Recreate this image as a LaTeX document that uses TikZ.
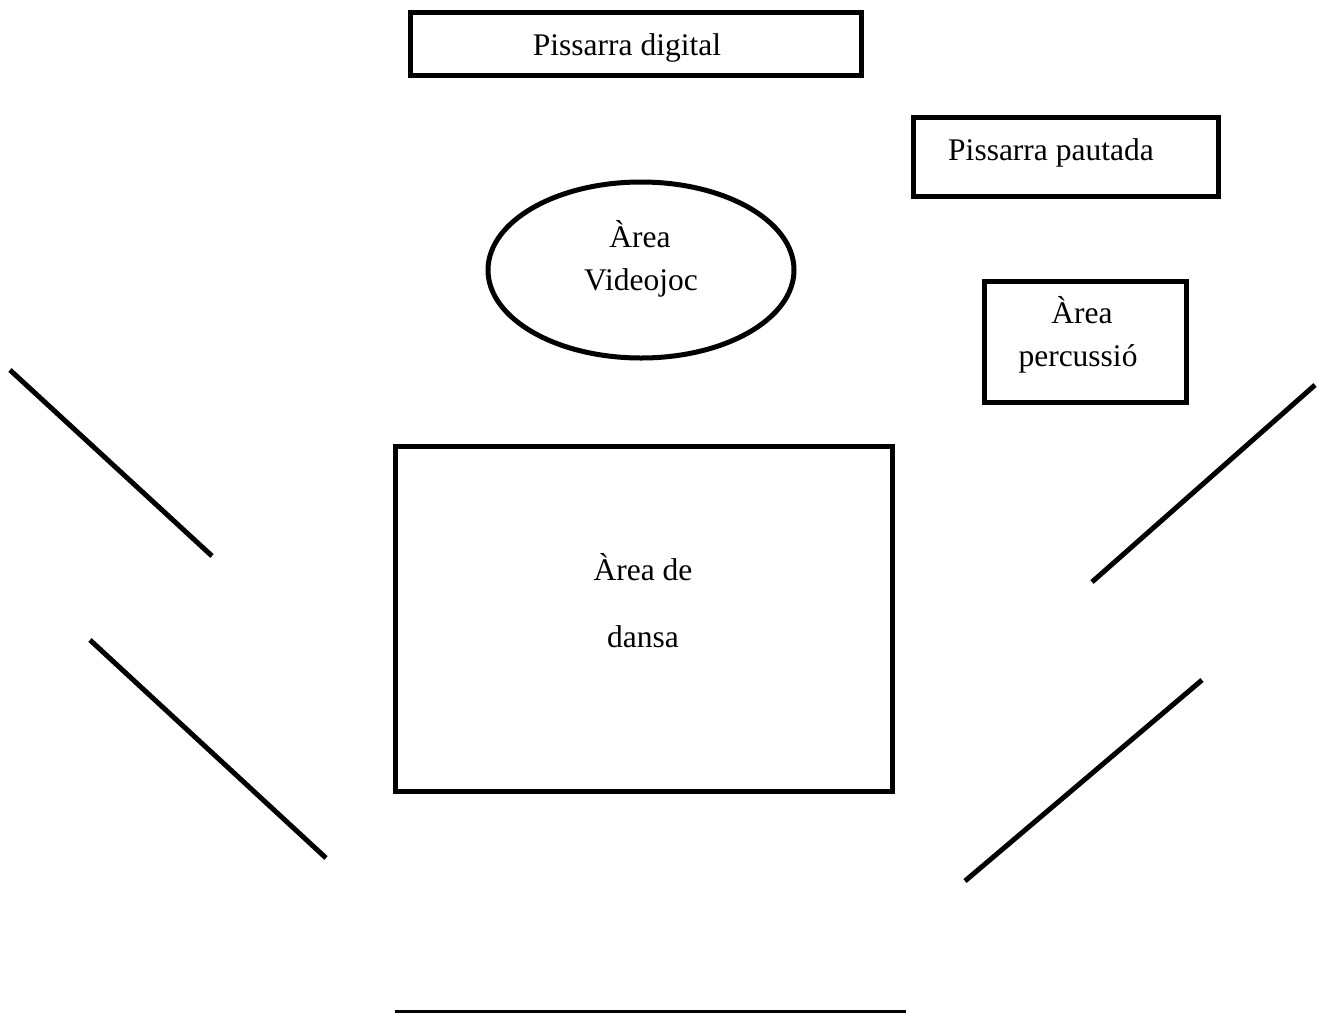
\documentclass[tikz,border=0pt]{standalone}
\usepackage{fontspec}
\setmainfont{Liberation Serif}
\usetikzlibrary{shapes.geometric}
\begin{document}
\begin{tikzpicture}[x=1pt,y=-1pt,
  box/.style={draw,line width=5pt,inner sep=0pt},
  wall/.style={line width=5pt},
  lbl/.style={font=\fontsize{31.5}{36}\selectfont,anchor=base,inner sep=0pt}]
\useasboundingbox[fill=white] (0,0) rectangle (1323,1013);
% boxes
\node[box,minimum width=451pt,minimum height=63pt] (dig) at (635.5,43.5) {};
\node[box,minimum width=305pt,minimum height=79pt] (pau) at (1066,157) {};
\node[box,ellipse,minimum width=306pt,minimum height=176pt] (vid) at (641,270) {};
\node[box,minimum width=202pt,minimum height=121pt] (per) at (1085,341.5) {};
\node[box,minimum width=497pt,minimum height=345pt] (dan) at (643.5,618.5) {};
% labels
\node[lbl] (tdig) at (627,55) {Pissarra digital};
\node[lbl] (tpau) at (1051,160) {Pissarra pautada};
\node[lbl] (tvid1) at (640,247) {Àrea};
\node[lbl] (tvid2) at (641,290) {Videojoc};
\node[lbl] (tper1) at (1082,323) {Àrea};
\node[lbl] (tper2) at (1078,366) {percussió};
\node[lbl] (tdan1) at (643,580) {Àrea de};
\node[lbl] (tdan2) at (643,647) {dansa};
% walls
\coordinate (a1) at (10,370);  \coordinate (a2) at (212,556);
\coordinate (b1) at (90,640);  \coordinate (b2) at (326,858);
\coordinate (c1) at (1315,385); \coordinate (c2) at (1092,582);
\coordinate (d1) at (1202,680); \coordinate (d2) at (965,881);
\coordinate (e1) at (395,1011.5); \coordinate (e2) at (906,1011.5);
\draw[wall] (a1) -- (a2);
\draw[wall] (b1) -- (b2);
\draw[wall] (c1) -- (c2);
\draw[wall] (d1) -- (d2);
\draw[line width=3.5pt] (e1) -- (e2);
\end{tikzpicture}
\end{document}
